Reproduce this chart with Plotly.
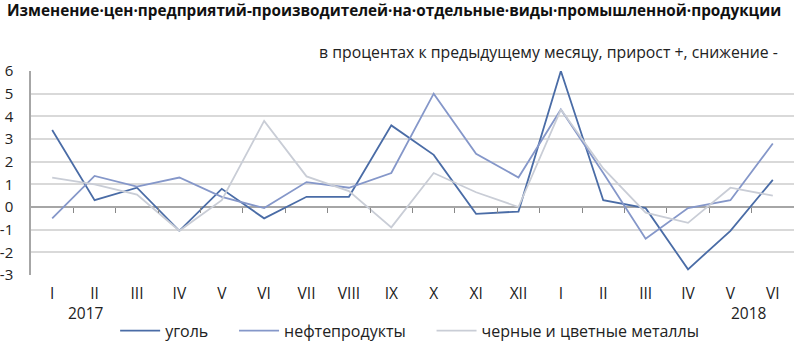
import plotly.graph_objects as go

months = ["I", "II", "III", "IV", "V", "VI", "VII", "VIII", "IX", "X", "XI", "XII",
          "I", "II", "III", "IV", "V", "VI"]
coal = [3.4, 0.3, 0.85, -1.05, 0.8, -0.5, 0.45, 0.45, 3.6, 2.3, -0.3, -0.2,
        6.0, 0.3, -0.05, -2.75, -1.05, 1.2]
oil = [-0.5, 1.37, 0.9, 1.3, 0.45, -0.05, 1.1, 0.85, 1.5, 5.0, 2.35, 1.3,
       4.3, 1.5, -1.4, -0.05, 0.3, 2.8]
metals = [1.3, 1.0, 0.55, -1.05, 0.3, 3.8, 1.35, 0.7, -0.9, 1.5, 0.65, 0.0,
          4.3, 1.7, -0.25, -0.7, 0.85, 0.5]
y_ticks = [6, 5, 4, 3, 2, 1, 0, -1, -2, -3]
years = [("2017", 0.8), ("2018", 16.45)]

FONT = "Open Sans"
idx = list(range(len(months)))

fig = go.Figure()
series = [("уголь", coal, "#4a6ca6"), ("нефтепродукты", oil, "#8597c9"),
          ("черные и цветные металлы", metals, "#c9cdd6")]
for name, vals, col in series:
    fig.add_trace(go.Scatter(x=idx, y=vals, name=name + "     ", mode="lines",
                             line=dict(color=col, width=1.8)))

# invisible trace for the zero-line tick axis
fig.add_trace(go.Scatter(x=[0], y=[0], xaxis="x2", mode="markers",
                         marker=dict(opacity=0), showlegend=False, hoverinfo="skip"))

for label, pos in years:
    fig.add_annotation(x=pos, y=-0.185, xref="x", yref="paper", text=label,
                       yanchor="middle",
                       showarrow=False, font=dict(family=FONT, size=15.5, color="#222"))

fig.add_annotation(x=-0.034, y=1.3, xref="paper", yref="paper", xanchor="left", yanchor="middle",
                   text="<b>Изменение·цен·предприятий-производителей·на·отдельные·виды·промышленной·продукции</b>",
                   showarrow=False, font=dict(family=FONT, size=15.3, color="#111"))
fig.add_annotation(x=0.982, y=1.093, xref="paper", yref="paper", xanchor="right", yanchor="middle",
                   text="в процентах к предыдущему месяцу, прирост +, снижение -",
                   showarrow=False, font=dict(family=FONT, size=15.8, color="#222"))

fig.update_layout(
    width=800, height=353,
    margin=dict(l=31, r=6, t=71, b=78, autoexpand=False),
    paper_bgcolor="white", plot_bgcolor="white",
    font=dict(family=FONT, size=15.5, color="#222"),
    showlegend=True,
    legend=dict(orientation="h", x=0.51, xanchor="center", y=-0.19, yanchor="top",
                font=dict(family=FONT, size=16, color="#222"), itemwidth=40),
    xaxis=dict(range=[-0.5, 17.5], tickmode="array", tickvals=idx, ticktext=months,
               showgrid=False, zeroline=False, showline=False, ticks="",
               ticklabelstandoff=7,
               tickfont=dict(family=FONT, size=15.5, color="#222")),
    xaxis2=dict(range=[-0.5, 17.5], overlaying="x", anchor="free", position=1/3,
                side="bottom", tickmode="array",
                tickvals=[i + 0.5 for i in idx[:-1]], ticktext=[""] * (len(idx) - 1),
                ticks="outside", ticklen=5, tickcolor="#888", tickwidth=1,
                showgrid=False, showline=False, zeroline=False),
    yaxis=dict(range=[-3, 6], tickmode="array", tickvals=y_ticks,
               ticktext=[str(v) for v in y_ticks],
               showgrid=True, gridcolor="#d9d9d9", gridwidth=1.5,
               zeroline=True, zerolinecolor="#a6a6a6", zerolinewidth=1.5,
               showline=True, linecolor="#a6a6a6", linewidth=1.5,
               ticks="", ticklabelstandoff=13,
               tickfont=dict(family=FONT, size=15, color="#222")),
)

fig.write_html("out.html")
